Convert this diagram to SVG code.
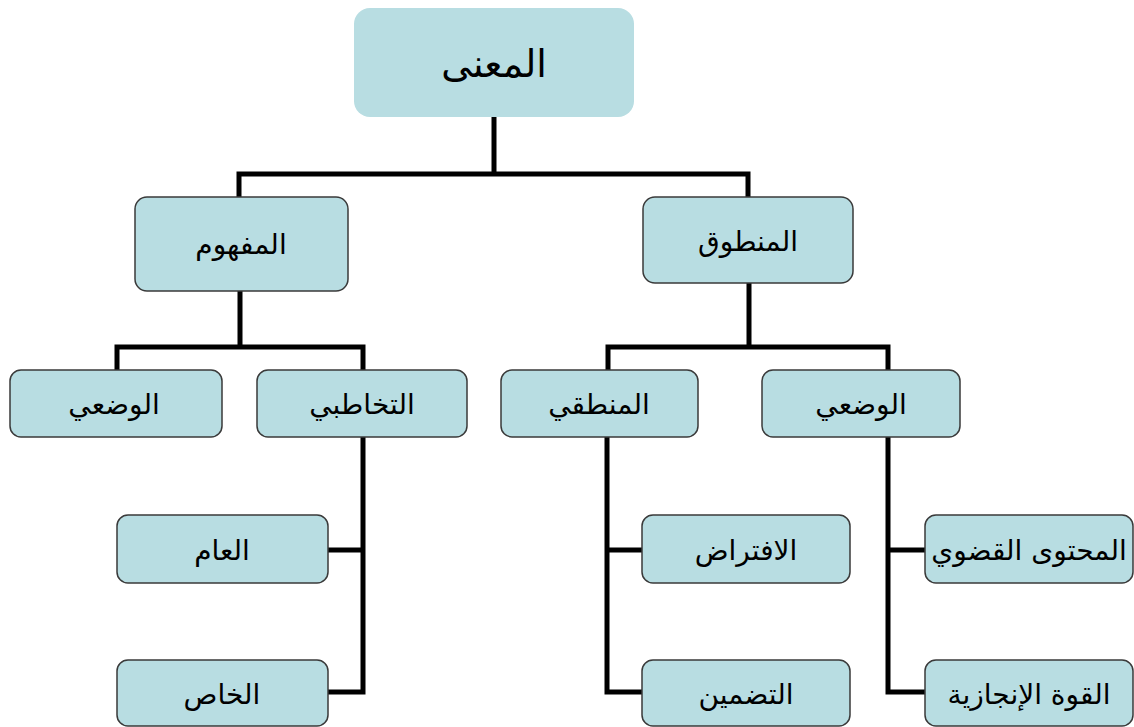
<svg xmlns="http://www.w3.org/2000/svg" width="1134" height="727" viewBox="0 0 1134 727">
<style>
.box{fill:#B8DDE2;stroke:#3a3a3a;stroke-width:1.5}
.top{fill:#B8DDE2;stroke:none}
.lbl{font-family:"DejaVu Sans","Noto Sans",sans-serif;font-size:28px;fill:#000;text-anchor:middle;dominant-baseline:central;direction:rtl}
.big{font-size:38px}
.conn{fill:none;stroke:#000;stroke-width:5;stroke-linejoin:miter}
</style>
<rect width="1134" height="727" fill="#fff"/>
<g id="connectors">
<path class="conn" d="M494 117 V174 M239 197 V174 H748 V197"/>
<path class="conn" d="M240 291 V347 M117 370 V347 H363 V370"/>
<path class="conn" d="M749 283 V347 M608 370 V347 H888 V370"/>
<path class="conn" d="M363 437 V692 H328 M363 550 H328"/>
<path class="conn" d="M607 437 V692 H642 M607 550 H642"/>
<path class="conn" d="M888 436 V692 H925 M888 550 H925"/>
</g>
<g id="n-maana"><rect class="top" x="354" y="8" width="280" height="109" rx="16"/><text class="lbl big" x="494" y="64">المعنى</text></g>
<g id="n-mafhum"><rect class="box" x="135" y="197" width="213" height="94" rx="12"/><text class="lbl" x="241" y="244">المفهوم</text></g>
<g id="n-mantuq"><rect class="box" x="643" y="197" width="210" height="86" rx="12"/><text class="lbl" x="748" y="241">المنطوق</text></g>
<g id="n-wadi1"><rect class="box" x="10" y="370" width="212" height="67" rx="11"/><text class="lbl" x="114" y="404">الوضعي</text></g>
<g id="n-takhatubi"><rect class="box" x="257" y="370" width="210" height="67" rx="11"/><text class="lbl" x="362" y="404">التخاطبي</text></g>
<g id="n-mantiqi"><rect class="box" x="501" y="370" width="197" height="67" rx="11"/><text class="lbl" x="599" y="404">المنطقي</text></g>
<g id="n-wadi2"><rect class="box" x="762" y="370" width="198" height="67" rx="11"/><text class="lbl" x="861" y="404">الوضعي</text></g>
<g id="n-aam"><rect class="box" x="117" y="515" width="211" height="68" rx="11"/><text class="lbl" x="222" y="550">العام</text></g>
<g id="n-khas"><rect class="box" x="117" y="660" width="211" height="66" rx="11"/><text class="lbl" x="222" y="694">الخاص</text></g>
<g id="n-iftirad"><rect class="box" x="642" y="515" width="208" height="68" rx="11"/><text class="lbl" x="746" y="550">الافتراض</text></g>
<g id="n-tadmin"><rect class="box" x="642" y="660" width="208" height="66" rx="11"/><text class="lbl" x="746" y="694">التضمين</text></g>
<g id="n-muhtawa"><rect class="box" x="925" y="515" width="208" height="68" rx="11"/><text class="lbl" x="1029" y="550">المحتوى القضوي</text></g>
<g id="n-quwwa"><rect class="box" x="925" y="660" width="208" height="66" rx="11"/><text class="lbl" x="1029" y="694">القوة الإنجازية</text></g>
</svg>
